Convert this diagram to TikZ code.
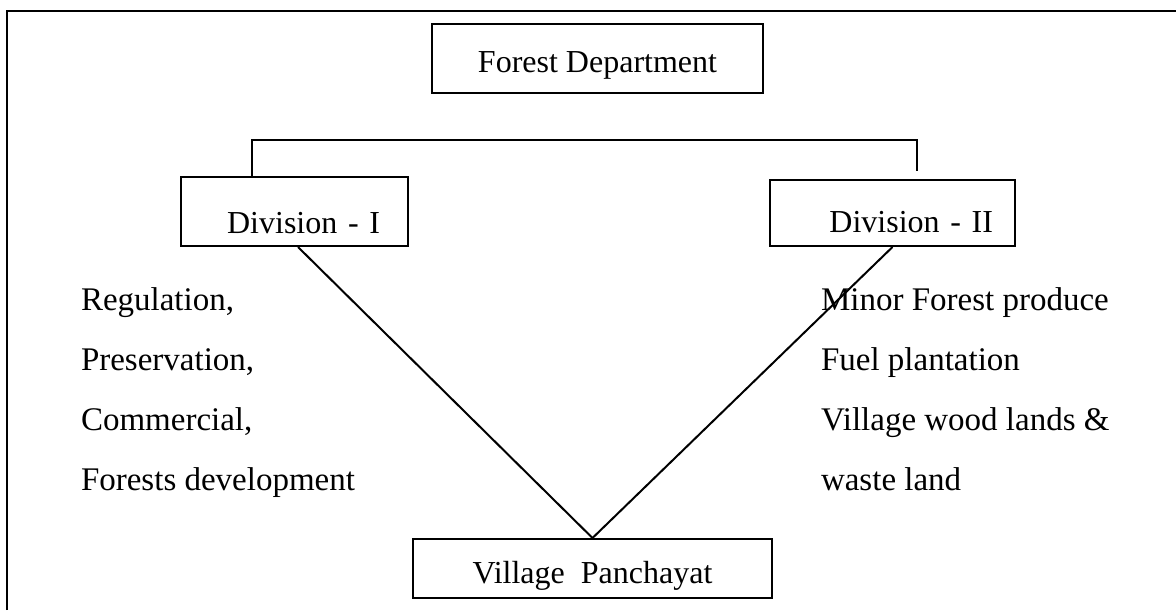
\documentclass[tikz,border=0pt]{standalone}
\usepackage{fontspec}
\setmainfont{Liberation Serif}
\tikzset{
	every path/.style={line width=1pt},
	unit/.style={
		draw,
		rectangle,
		inner ysep=0pt,
		font=\fontsize{16}{19}\selectfont,
	},
	duty/.style={
		anchor=base west,
		inner sep=0pt,
		font=\fontsize{16.5}{19}\selectfont,
	},
}
\begin{document}
\begin{tikzpicture}[x=0.5pt,y=-0.5pt]
		\useasboundingbox (0,0) rectangle (1176,610);

		% frame
		\draw (7,610) -- (7,11) -- (1176,11);

		\node[unit, minimum width=165.5pt, text height=24.5pt, text depth=10pt]
			(dept) at (597.5,58.5) {Forest Department};

		\node[unit, inner xsep=14pt, text width=85.5pt, align=right, text height=28pt, text depth=6.5pt]
			(divone) at (294.5,211.5) {Division - I};
		\node[unit, inner xsep=11pt, text width=100.5pt, align=right, text height=26pt, text depth=7pt]
			(divtwo) at (892.5,213) {Division - II};

		\node[unit, minimum width=179.5pt, text height=22pt, text depth=7.5pt]
			(panch) at (592.5,568.5) {Village\ \ Panchayat};

		\coordinate (split) at (585,140);

		\draw ([xshift=36pt]divone.north west) |- (split) -| ([shift={(74pt,4pt)}]divtwo.north west);

		\draw ([xshift=1.75pt]divone.south) -- (panch.north);
		\draw (divtwo.south) -- (panch.north);

		\node[duty] (reg)  at (80,310) {Regulation,};
		\node[duty] (pres) at (80,370) {Preservation,};
		\node[duty] (comm) at (80,430) {Commercial,};
		\node[duty] (fdev) at (80,490) {Forests development};

		\node[duty] (mfp)   at (820,310) {Minor Forest produce};
		\node[duty] (fuel)  at (820,370) {Fuel plantation};
		\node[duty] (vwood) at (820,430) {Village wood lands \&};
		\node[duty] (waste) at (820,490) {waste land};

	\end{tikzpicture}
\end{document}
